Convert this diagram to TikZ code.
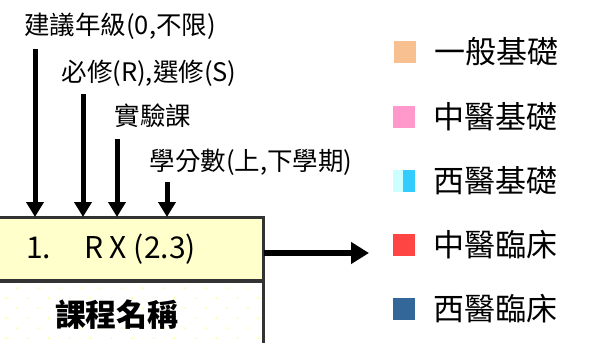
\documentclass[tikz,border=0pt]{standalone}
\usepackage{fontspec}
\setmainfont{Noto Sans CJK TC}
\usetikzlibrary{arrows.meta,positioning}

\definecolor{cellyellow}{HTML}{FFFFCC}
\definecolor{dotyellow}{HTML}{FFFF99}
\definecolor{keypeach}{HTML}{F8C090}
\definecolor{keypink}{HTML}{FF99CC}
\definecolor{keyicel}{HTML}{CCFFFF}
\definecolor{keycyan}{HTML}{33CCFF}
\definecolor{keyred}{HTML}{FF4444}
\definecolor{keyblue}{HTML}{336699}

\begin{document}
\begin{tikzpicture}[x=1pt,y=-1pt,
    lbl/.style={font=\fontsize{25.5}{25.5}\selectfont},
    feed/.style={line width=5pt,-{Triangle[length=15pt,width=17pt]}},
    cellbox/.style={draw=black!80,line width=2pt,minimum width=270pt},
    key/.style={minimum size=22pt},
    keytext/.style={font=\fontsize{31}{31}\selectfont,right=18pt of #1}]
    \tikzstyle{every node}+=[inner sep=0pt]
    \clip (0,0) rectangle (590,343);
    % labels above the cell
    \node[lbl] (grade) at (120,26) {建議年級(0,不限)};
    \node[lbl] (kind) at (149,73) {必修(R),選修(S)};
    \node[lbl] (lab) at (153,116) {實驗課};
    \node[lbl] (credit) at (251,162) {學分數(上,下學期)};
    \coordinate (gradeA) at (35,49);
    \coordinate (kindA) at (83,94);
    \coordinate (labA) at (117,139);
    \coordinate (creditA) at (167,182);
    % the cell
    \node[cellbox,fill=cellyellow,minimum height=62pt] (cell) at (128,249) {};
    \node[cellbox,minimum height=62pt,anchor=north] (name) at (cell.south) {};
    \begin{scope}
        \clip (name.south west) rectangle (name.north east);
        \foreach \r in {0,...,5} {
            \pgfmathsetmacro{\dx}{mod(\r,2)==0 ? 17 : 6.5}
            \foreach \c in {0,...,12}
                \fill[dotyellow] (\dx+21*\c,288+10*\r) circle (1pt);
        }
    \end{scope}
    \draw[black!80,line width=2pt] (cell.north west) rectangle (name.south east);
    \draw[black!80,line width=2pt] (cell.south west) -- (cell.south east);
    \node[font=\fontsize{30}{30}\selectfont] (num) at (111,249) {1.\hspace{1.1em}R X (2.3)};
    \node[font=\fontsize{31}{31}\selectfont\bfseries] (title) at (117,315) {課程名稱};
    \foreach \a in {gradeA,kindA,labA,creditA}
        \draw[feed] (\a) -- (\a |- cell.north);
    \coordinate (out) at (369,253);
    \draw[line width=6.5pt,-{Triangle[length=18pt,width=21pt]}] (cell.east |- out) -- (out);
    % legend
    \node[key,fill=keypeach] (k1) at (405,52) {};
    \node[key,fill=keypink] (k2) at (404,117) {};
    \node[key,fill=keyicel] (k3) at (404,181) {};
    \fill[keycyan] (403,170) rectangle (k3.south east);
    \node[key,fill=keyred] (k4) at (404,245) {};
    \node[key,fill=keyblue] (k5) at (404,309) {};
    \node[keytext=k1] (t1) {一般基礎};
    \node[keytext=k2] (t2) {中醫基礎};
    \node[keytext=k3] (t3) {西醫基礎};
    \node[keytext=k4] (t4) {中醫臨床};
    \node[keytext=k5] (t5) {西醫臨床};
\end{tikzpicture}
\end{document}
